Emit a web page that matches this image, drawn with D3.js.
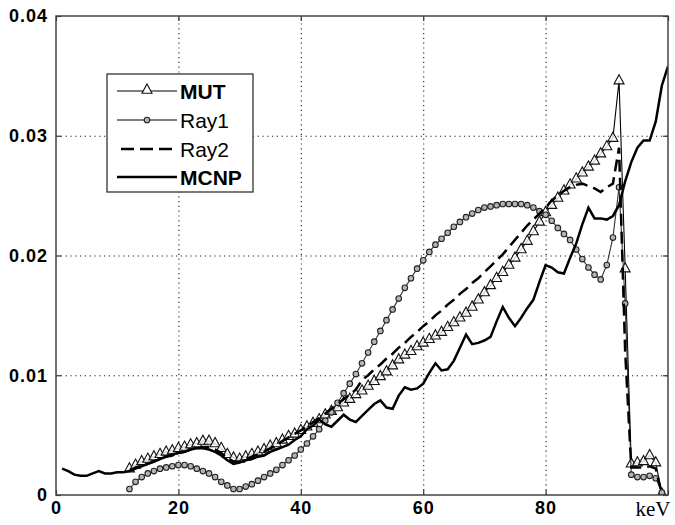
<!DOCTYPE html>
<html lang="en">
	<head>
		<meta charset="UTF-8"/>
		<title>Spectrum comparison</title>
		<script type="text/javascript" src="https://cdn.jsdelivr.net/npm/d3@7/dist/d3.min.js"></script>
		<style>
			body { margin: 0; background: #fff; }
			.axis text { font-family: "Liberation Sans", Arial, sans-serif; font-weight: bold; font-size: 18px; fill: #000; letter-spacing: 1px; }
			.axis line { stroke: #333; stroke-width: 1.2; }
			.grid line { stroke: #222; stroke-width: 1.1; stroke-dasharray: 1.2,3.6; }
			.legend text { font-family: "Liberation Sans", Arial, sans-serif; font-size: 21px; fill: #000; }
		</style>
	</head>
	<body>
		<script type="text/javascript">
			// energies (keV)
			var kevMarked = d3.range(12, 100);   // MUT, Ray1, Ray2
			var kevMcnp = d3.range(1, 101);      // MCNP

			var mut = [
				0.0022, 0.0025, 0.0028, 0.0030, 0.0032, 0.0034, 0.0036, 0.0037, 0.0039, 0.0040,
				0.0042, 0.0043, 0.0045, 0.0045, 0.0043, 0.0039, 0.0034, 0.0031, 0.0030, 0.0032,
				0.0034, 0.0036, 0.0038, 0.0041, 0.0043, 0.0046, 0.0049, 0.0051, 0.0054, 0.0057,
				0.0060, 0.0063, 0.0067, 0.0070, 0.0073, 0.0077, 0.0080, 0.0084, 0.0087, 0.0091,
				0.0095, 0.0099, 0.0103, 0.0108, 0.0113, 0.0117, 0.0120, 0.0124, 0.0127, 0.0130,
				0.0133, 0.0136, 0.0140, 0.0144, 0.0148, 0.0152, 0.0157, 0.0163, 0.0169, 0.0175,
				0.0181, 0.0186, 0.0192, 0.0198, 0.0205, 0.0212, 0.0220, 0.0228, 0.0236, 0.0242,
				0.0248, 0.0254, 0.0259, 0.0264, 0.0269, 0.0274, 0.0279, 0.0285, 0.0291, 0.0298,
				0.0346, 0.0189, 0.0026, 0.0027, 0.0028, 0.0033, 0.0027, 0.0001
			];

			var ray1 = [
				0.0005, 0.0011, 0.0015, 0.0018, 0.0020, 0.0022, 0.0023, 0.0024, 0.0025, 0.0025,
				0.0024, 0.0022, 0.0020, 0.0018, 0.0015, 0.0011, 0.0008, 0.0005, 0.0005, 0.0007,
				0.0009, 0.0012, 0.0015, 0.0018, 0.0021, 0.0025, 0.0029, 0.0033, 0.0038, 0.0043,
				0.0049, 0.0055, 0.0062, 0.0069, 0.0077, 0.0085, 0.0093, 0.0101, 0.0110, 0.0119,
				0.0128, 0.0137, 0.0146, 0.0155, 0.0164, 0.0173, 0.0181, 0.0189, 0.0196, 0.0203,
				0.0209, 0.0214, 0.0219, 0.0224, 0.0228, 0.0232, 0.0235, 0.0238, 0.0240, 0.0241,
				0.0242, 0.0243, 0.0243, 0.0243, 0.0243, 0.0242, 0.0240, 0.0237, 0.0234, 0.0229,
				0.0223, 0.0218, 0.0213, 0.0205, 0.0197, 0.0190, 0.0184, 0.0180, 0.0192, 0.0215,
				0.0257, 0.0160, 0.0017, 0.0015, 0.0015, 0.0016, 0.0014, 0.0002
			];

			var ray2 = [
				0.0020, 0.0022, 0.0024, 0.0026, 0.0028, 0.0030, 0.0032, 0.0033, 0.0035, 0.0036,
				0.0038, 0.0039, 0.0040, 0.0040, 0.0038, 0.0035, 0.0031, 0.0028, 0.0028, 0.0030,
				0.0032, 0.0034, 0.0036, 0.0039, 0.0042, 0.0045, 0.0048, 0.0051, 0.0054, 0.0057,
				0.0061, 0.0064, 0.0068, 0.0072, 0.0076, 0.0080, 0.0084, 0.0088, 0.0096, 0.0100,
				0.0105, 0.0109, 0.0114, 0.0118, 0.0123, 0.0127, 0.0132, 0.0136, 0.0141, 0.0145,
				0.0150, 0.0154, 0.0159, 0.0163, 0.0168, 0.0172, 0.0177, 0.0181, 0.0186, 0.0191,
				0.0196, 0.0201, 0.0207, 0.0213, 0.0219, 0.0225, 0.0230, 0.0235, 0.0240, 0.0246,
				0.0250, 0.0254, 0.0257, 0.0259, 0.0260, 0.0258, 0.0256, 0.0253, 0.0257, 0.0260,
				0.0290, 0.0120, 0.0023, 0.0023, 0.0023, 0.0024, 0.0022, 0.0001
			];

			var mcnp = [
				0.0022, 0.0020, 0.0017, 0.0016, 0.0016, 0.0018, 0.0020, 0.0018, 0.0018, 0.0019,
				0.0019, 0.0020, 0.0023, 0.0024, 0.0026, 0.0028, 0.0030, 0.0032, 0.0034, 0.0035,
				0.0036, 0.0038, 0.0039, 0.0039, 0.0038, 0.0036, 0.0033, 0.0029, 0.0026, 0.0027,
				0.0029, 0.0030, 0.0032, 0.0033, 0.0036, 0.0038, 0.0040, 0.0042, 0.0046, 0.0049,
				0.0055, 0.0058, 0.0063, 0.0059, 0.0057, 0.0062, 0.0067, 0.0063, 0.0061, 0.0066,
				0.0071, 0.0076, 0.0079, 0.0073, 0.0072, 0.0083, 0.0090, 0.0088, 0.0089, 0.0093,
				0.0102, 0.0110, 0.0104, 0.0105, 0.0112, 0.0123, 0.0134, 0.0126, 0.0127, 0.0129,
				0.0132, 0.0145, 0.0157, 0.0148, 0.0141, 0.0148, 0.0156, 0.0163, 0.0178, 0.0192,
				0.0190, 0.0186, 0.0185, 0.0198, 0.0210, 0.0226, 0.0240, 0.0231, 0.0231, 0.0230,
				0.0233, 0.0242, 0.0262, 0.0278, 0.0290, 0.0296, 0.0296, 0.0312, 0.0342, 0.0358
			];

			var xTicks = [0, 20, 40, 60, 80, 100];
			var xTickLabels = ["0", "20", "40", "60", "80", "keV"];
			var yTicks = [0, 0.01, 0.02, 0.03, 0.04];
			var yTickLabels = ["0", "0.01", "0.02", "0.03", "0.04"];
			var seriesNames = ["MUT", "Ray1", "Ray2", "MCNP"];

			var w = 675;
			var h = 525;
			var plotL = 56, plotR = 668, plotT = 16, plotB = 495;

			var svg = d3.select("body")
				.append("svg")
				.attr("width", w)
				.attr("height", h);

			var xScale = d3.scaleLinear()
				.domain([0, 100])
				.range([plotL, plotR]);

			var yScale = d3.scaleLinear()
				.domain([0, 0.04])
				.range([plotB, plotT]);

			// dotted grid
			svg.append("g")
				.attr("class", "grid")
				.attr("transform", "translate(0," + plotB + ")")
				.call(d3.axisBottom(xScale).tickValues([20, 40, 60, 80]).tickSize(-(plotB - plotT)).tickFormat(""))
				.call(function(g) { g.select(".domain").remove(); });

			svg.append("g")
				.attr("class", "grid")
				.attr("transform", "translate(" + plotL + ",0)")
				.call(d3.axisLeft(yScale).tickValues([0.01, 0.02, 0.03]).tickSize(-(plotR - plotL)).tickFormat(""))
				.call(function(g) { g.select(".domain").remove(); });

			// axes with inward ticks
			var xAxis = svg.append("g")
				.attr("class", "axis")
				.attr("transform", "translate(0," + plotB + ")")
				.call(d3.axisBottom(xScale).tickValues(xTicks).tickSizeInner(-5).tickSizeOuter(0).tickPadding(6)
					.tickFormat(function(d, i) { return xTickLabels[i]; }));
			xAxis.select(".domain").remove();
			xAxis.selectAll(".tick text")
				.filter(function(d) { return d === 100; })
				.attr("text-anchor", "end")
				.attr("dx", 2)
				.style("font-family", "'Liberation Serif', 'Times New Roman', serif")
				.style("font-weight", "normal")
				.style("font-size", "21px")
				.style("letter-spacing", "0px");

			var yAxis = svg.append("g")
				.attr("class", "axis")
				.attr("transform", "translate(" + plotL + ",0)")
				.call(d3.axisLeft(yScale).tickValues(yTicks).tickSizeInner(-5).tickSizeOuter(0).tickPadding(8)
					.tickFormat(function(d, i) { return yTickLabels[i]; }));
			yAxis.select(".domain").remove();

			svg.append("g")
				.attr("class", "axis")
				.attr("transform", "translate(0," + plotT + ")")
				.call(d3.axisTop(xScale).tickValues(xTicks).tickSizeInner(-5).tickSizeOuter(0).tickFormat(""))
				.select(".domain").remove();

			svg.append("g")
				.attr("class", "axis")
				.attr("transform", "translate(" + plotR + ",0)")
				.call(d3.axisRight(yScale).tickValues(yTicks).tickSizeInner(-5).tickSizeOuter(0).tickFormat(""))
				.select(".domain").remove();

			// clip to plot box
			svg.append("clipPath")
				.attr("id", "plotClip")
				.append("rect")
				.attr("x", plotL)
				.attr("y", plotT - 12)
				.attr("width", plotR - plotL)
				.attr("height", plotB - plotT + 12);

			var plot = svg.append("g").attr("clip-path", "url(#plotClip)");

			var line = d3.line()
				.x(function(d) { return xScale(d[0]); })
				.y(function(d) { return yScale(d[1]); });

			var mutData = d3.zip(kevMarked, mut);
			var ray1Data = d3.zip(kevMarked, ray1);
			var ray2Data = d3.zip(kevMarked, ray2);
			var mcnpData = d3.zip(kevMcnp, mcnp);

			var triPath = "M0,-6L5,3.2L-5,3.2Z";

			// MUT
			plot.append("path")
				.datum(mutData)
				.attr("d", line)
				.attr("fill", "none")
				.attr("stroke", "#000")
				.attr("stroke-width", 1.1);

			plot.selectAll(".tri")
				.data(mutData)
				.enter()
				.append("path")
				.attr("class", "tri")
				.attr("d", triPath)
				.attr("transform", function(d) { return "translate(" + xScale(d[0]) + "," + yScale(d[1]) + ")"; })
				.attr("fill", "#fff")
				.attr("fill-opacity", 0.8)
				.attr("stroke", "#111")
				.attr("stroke-width", 1.1);

			// Ray1
			plot.append("path")
				.datum(ray1Data)
				.attr("d", line)
				.attr("fill", "none")
				.attr("stroke", "#333")
				.attr("stroke-width", 1.1);

			plot.selectAll(".dot")
				.data(ray1Data)
				.enter()
				.append("circle")
				.attr("class", "dot")
				.attr("cx", function(d) { return xScale(d[0]); })
				.attr("cy", function(d) { return yScale(d[1]); })
				.attr("r", 2.8)
				.attr("fill", "#b4b4b4")
				.attr("stroke", "#222")
				.attr("stroke-width", 1.1);

			// Ray2
			plot.append("path")
				.datum(ray2Data)
				.attr("d", line)
				.attr("fill", "none")
				.attr("stroke", "#000")
				.attr("stroke-width", 2.5)
				.attr("stroke-dasharray", "12,6");

			// MCNP
			plot.append("path")
				.datum(mcnpData)
				.attr("d", line)
				.attr("fill", "none")
				.attr("stroke", "#000")
				.attr("stroke-width", 2.5);

			// frame
			svg.append("rect")
				.attr("x", plotL)
				.attr("y", plotT)
				.attr("width", plotR - plotL)
				.attr("height", plotB - plotT)
				.attr("fill", "none")
				.attr("stroke", "#444")
				.attr("stroke-width", 1.5);

			// legend
			var legend = svg.append("g").attr("class", "legend");
			legend.append("rect")
				.attr("x", 107)
				.attr("y", 74)
				.attr("width", 146)
				.attr("height", 118)
				.attr("fill", "#fff")
				.attr("stroke", "#333")
				.attr("stroke-width", 1.3);

			var rowY = [91, 120, 149, 177];
			seriesNames.forEach(function(name, i) {
				var y = rowY[i];
				var seg = legend.append("line")
					.attr("x1", 117).attr("x2", 177)
					.attr("y1", y).attr("y2", y)
					.attr("stroke", "#000");
				if (i < 2) seg.attr("stroke-width", 1.1);
				else seg.attr("stroke-width", 2.6);
				if (i === 2) seg.attr("x1", 121).attr("stroke-dasharray", "13,6");
				if (i === 0) {
					legend.append("path")
						.attr("d", triPath)
						.attr("transform", "translate(147," + (y - 1) + ")")
						.attr("fill", "#fff")
						.attr("stroke", "#111")
						.attr("stroke-width", 1.1);
				}
				if (i === 1) {
					legend.append("circle")
						.attr("cx", 147).attr("cy", y).attr("r", 2.8)
						.attr("fill", "#b4b4b4").attr("stroke", "#222").attr("stroke-width", 1.1);
				}
				legend.append("text")
					.attr("x", 180)
					.attr("y", y)
					.attr("dy", "0.36em")
					.style("font-weight", (i === 0 || i === 3) ? "bold" : "500")
					.text(name);
			});
		</script>
	</body>
</html>
